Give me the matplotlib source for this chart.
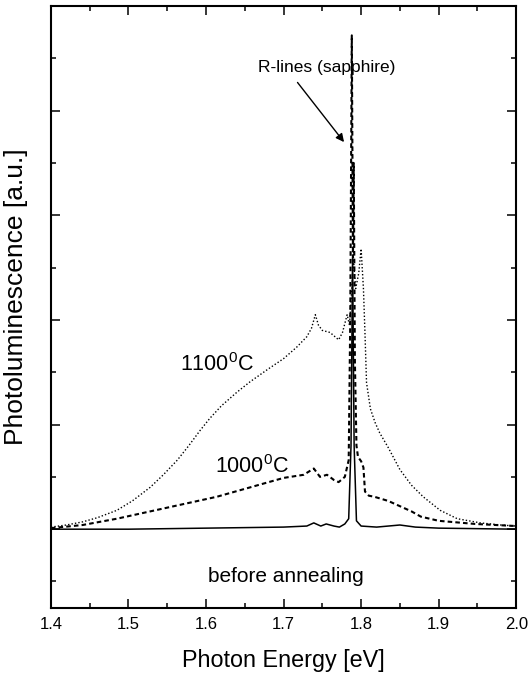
import matplotlib
matplotlib.use("Agg")
import matplotlib.pyplot as plt
from matplotlib.ticker import MultipleLocator, NullFormatter

plt.rcParams["font.family"] = ["Liberation Sans", "DejaVu Sans"]
plt.rcParams["mathtext.fontset"] = "custom"
plt.rcParams["mathtext.rm"] = "Liberation Sans"
plt.rcParams["mathtext.it"] = "Liberation Sans"

# 1100 C anneal (dotted)
e_1100 = [1.40, 1.42, 1.441, 1.46, 1.485, 1.505, 1.528, 1.545, 1.563, 1.578,
          1.592, 1.605, 1.62, 1.64, 1.657, 1.68, 1.700, 1.717, 1.730, 1.736,
          1.741, 1.745, 1.750, 1.760, 1.771, 1.776, 1.782, 1.785, 1.788, 1.790,
          1.793, 1.797, 1.800, 1.803, 1.805, 1.807, 1.812, 1.818, 1.824, 1.835,
          1.850, 1.865, 1.880, 1.902, 1.924, 1.954, 1.98, 2.0]
pl_1100 = [0.02, 0.04, 0.07, 0.11, 0.18, 0.27, 0.40, 0.52, 0.66, 0.80,
           0.94, 1.06, 1.18, 1.31, 1.41, 1.53, 1.63, 1.74, 1.84, 1.92,
           2.05, 1.95, 1.90, 1.88, 1.81, 1.88, 2.05, 1.95, 2.30, 2.60,
           2.30, 2.45, 2.68, 2.30, 1.87, 1.40, 1.15, 1.02, 0.92, 0.78,
           0.57, 0.42, 0.31, 0.18, 0.10, 0.06, 0.04, 0.03]

# 1000 C anneal (dashed)
e_1000 = [1.40, 1.441, 1.485, 1.528, 1.571, 1.614, 1.657, 1.700, 1.726, 1.739,
          1.747, 1.756, 1.765, 1.771, 1.779, 1.784, 1.786, 1.788, 1.7895, 1.7905,
          1.792, 1.794, 1.796, 1.800, 1.803, 1.805, 1.810, 1.817, 1.835, 1.850,
          1.865, 1.877, 1.900, 1.947, 2.0]
pl_1000 = [0.01, 0.04, 0.10, 0.17, 0.24, 0.31, 0.40, 0.49, 0.52, 0.58,
           0.50, 0.52, 0.47, 0.45, 0.50, 0.66, 2.00, 4.72, 2.60, 3.50,
           1.60, 0.80, 0.69, 0.65, 0.59, 0.36, 0.32, 0.31, 0.27, 0.22,
           0.17, 0.12, 0.08, 0.05, 0.03]

# before annealing (solid)
e_raw = [1.40, 1.50, 1.60, 1.70, 1.73, 1.739, 1.748, 1.755, 1.765, 1.772,
         1.779, 1.784, 1.787, 1.789, 1.791, 1.794, 1.80, 1.82, 1.85, 1.87,
         1.90, 2.0]
pl_raw = [0.0, 0.0, 0.01, 0.02, 0.03, 0.06, 0.03, 0.05, 0.03, 0.02,
          0.05, 0.10, 0.80, 2.60, 0.80, 0.08, 0.03, 0.02, 0.04, 0.02,
          0.01, 0.0]

fig = plt.figure(figsize=(5.3, 6.75), dpi=100)
ax = fig.add_axes([0.096, 0.099, 0.878, 0.892])

ax.plot(e_1100, pl_1100, color="black", lw=1.0, linestyle=(0, (1, 1.5)))
ax.plot(e_1000, pl_1000, color="black", lw=1.5, linestyle=(0, (2.2, 1.5)))
ax.plot(e_raw, pl_raw, color="black", lw=1.1)

ax.set_xlim(1.4, 2.0)
ax.set_ylim(-0.755, 5.0)
ax.xaxis.set_major_locator(MultipleLocator(0.1))
ax.xaxis.set_minor_locator(MultipleLocator(0.05))
ax.yaxis.set_major_locator(MultipleLocator(1))
ax.yaxis.set_minor_locator(MultipleLocator(0.5))
ax.yaxis.set_major_formatter(NullFormatter())
ax.tick_params(which="both", direction="in", top=True, right=True, width=1.1)
ax.tick_params(which="major", length=6.5, labelsize=12, pad=6)
ax.tick_params(which="minor", length=3.6)
for s in ax.spines.values():
    s.set_linewidth(1.5)

ax.set_xlabel("Photon Energy [eV]", fontsize=16.8)
ax.xaxis.set_label_coords(0.5, -0.068)
ax.set_ylabel("Photoluminescence [a.u.]", fontsize=19)
ax.yaxis.set_label_coords(-0.05, 0.517)

ax.text(1.614, 1.57, "1100$^0$C", fontsize=15.5, ha="center", va="center")
ax.text(1.659, 0.60, "1000$^0$C", fontsize=15.5, ha="center", va="center")
ax.text(1.703, -0.45, "before annealing", fontsize=15, ha="center", va="center")
ax.text(1.756, 4.41, "R-lines (sapphire)", fontsize=12.5, ha="center", va="center")
ax.annotate("", xy=(1.778, 3.70), xytext=(1.718, 4.27),
            arrowprops=dict(arrowstyle="-|>", color="black", lw=1.0,
                            mutation_scale=12, shrinkA=0, shrinkB=0))

fig.savefig("out.png", dpi=100)
